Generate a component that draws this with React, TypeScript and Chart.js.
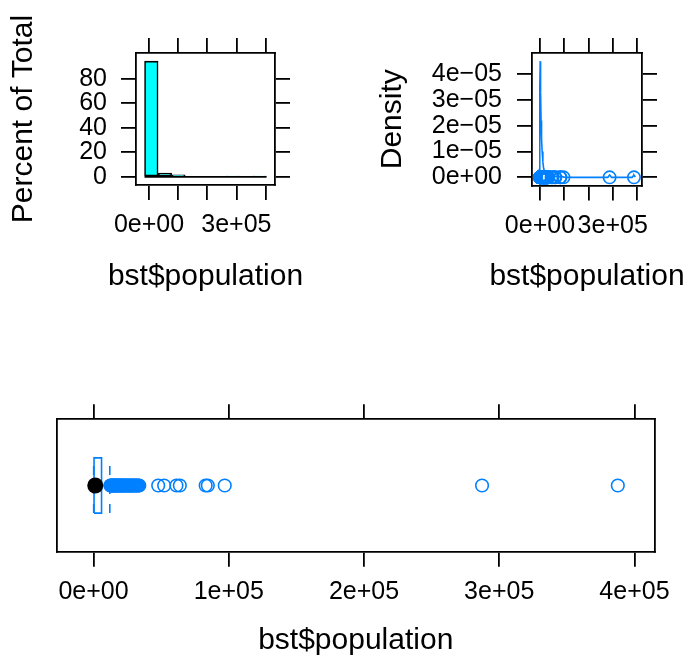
import React, { useEffect, useRef } from 'react';
import { Chart, registerables } from 'chart.js';

Chart.register(...registerables);

const FONT_FAMILY = "'Liberation Sans', Arial, Helvetica, sans-serif";
const BLUE = '#0080ff';
const CYAN = '#00ffff';
const BLACK = '#000000';
const FRAME_WIDTH = 1.8;
const SYMBOL_WIDTH = 1.6;

const xTitle = 'bst$population';

// Histogram: bin edges and percent of total per bin
const histBreaks = [-15508, 31016, 77540, 124064, 170588, 217112, 263636, 310160, 356684, 403208];
const histPercent = [94.4, 3.2, 1.6, 0, 0, 0, 0.4, 0, 0.4];

// Shared population axis ticks
const popTicks = [0, 100000, 200000, 300000, 400000];
const narrowPopLabels = ['0e+00', '', '', '3e+05', ''];
const widePopLabels = ['0e+00', '1e+05', '2e+05', '3e+05', '4e+05'];

const percentTicks = [0, 20, 40, 60, 80];
const percentLabels = ['0', '20', '40', '60', '80'];

// Kernel density estimate of population
const densityX = [
  -5000, -3000, -1500, 0, 1000, 2000, 3000, 4500, 6500, 9000, 12000, 15000, 20000, 25000,
  30000, 35000, 45000, 55000, 65000, 80000, 90000, 100000, 110000, 280000, 284000, 287300,
  291000, 295000, 380000, 384000, 387700, 391000, 393000,
];
const densityY = [
  0.02e-5, 0.3e-5, 1.6e-5, 3.5e-5, 4.5e-5, 4.2e-5, 3.3e-5, 2.2e-5, 1.5e-5, 1.0e-5, 0.6e-5,
  0.35e-5, 0.2e-5, 0.15e-5, 0.1e-5, 0.06e-5, 0.04e-5, 0.04e-5, 0.04e-5, 0.03e-5, 0.03e-5,
  0.01e-5, 0, 0, 0.05e-5, 0.09e-5, 0.05e-5, 0, 0, 0.05e-5, 0.09e-5, 0.05e-5, 0.01e-5,
];
const densityTicks = [0, 1e-5, 2e-5, 3e-5, 4e-5];
const densityLabels = ['0e+00', '1e\u221205', '2e\u221205', '3e\u221205', '4e\u221205'];

// Population values inside the whiskers
const bulkPopulation = [
  90, 150, 220, 300, 350, 420, 500, 600, 700, 800, 900, 1000, 1100, 1250, 1400, 1600, 1800,
  2000, 2300, 2600, 3000, 3400, 3900, 4400, 5000, 5900, 6700, 7600, 8600, 9700, 10800, 12000,
];
// Population values beyond the upper whisker
const outlierPopulation = [
  12400, 12800, 13200, 13700, 14100, 14600, 15000, 15500, 16000, 16500, 17000, 17500, 18100,
  18600, 19200, 19700, 20300, 20800, 21400, 22000, 22600, 23200, 23800, 24400, 25000, 25700,
  26300, 27000, 27600, 28300, 29000, 29700, 30400, 31100, 31800, 32500, 33200, 33800,
  47800, 52200, 61300, 63800, 82900, 84500, 97000, 287300, 387700,
];
// min, Q1, median, Q3, upper whisker
const fiveNumbers = [90, 350, 1250, 5900, 12000];

const extendRange = (lo: number, hi: number): [number, number] => {
  const pad = 0.07 * (hi - lo);
  return [lo - pad, hi + pad];
};

type AxisSpec = {
  position: 'top' | 'bottom' | 'left' | 'right';
  range: [number, number];
  size: number;
  ticks?: number[];
  labels?: string[];
  tickPadding?: number;
  title?: string;
  titlePad?: number;
};

function axis(o: AxisSpec): any {
  const horizontal = o.position === 'top' || o.position === 'bottom';
  return {
    type: 'linear',
    position: o.position,
    min: o.range[0],
    max: o.range[1],
    offset: false,
    afterBuildTicks: (s: any) => {
      s.ticks = (o.ticks ?? []).map((v) => ({ value: v }));
    },
    afterFit: (s: any) => {
      if (horizontal) s.height = o.size;
      else s.width = o.size;
    },
    ticks: {
      display: !!o.labels,
      autoSkip: false,
      maxRotation: 0,
      minRotation: 0,
      padding: o.tickPadding ?? 0,
      color: BLACK,
      font: { family: FONT_FAMILY, size: 25 },
      callback: (_v: any, i: number) => (o.labels ? o.labels[i] : ''),
    },
    grid: {
      display: !!o.ticks,
      drawOnChartArea: false,
      drawTicks: true,
      tickLength: 15,
      color: BLACK,
      lineWidth: FRAME_WIDTH,
      offset: false,
    },
    border: { display: true, color: BLACK, width: FRAME_WIDTH },
    title: o.title
      ? {
          display: true,
          text: o.title,
          color: BLACK,
          font: { family: FONT_FAMILY, size: 30 },
          padding: { top: o.titlePad ?? 0, bottom: o.titlePad ?? 0 },
        }
      : { display: false },
  };
}

// Horizontal axis title centred under the panel, free of the panel-width squeeze
function xTitlePlugin(text: string, below: number): any {
  return {
    id: 'xTitle',
    afterDraw(chart: any) {
      const { ctx, chartArea } = chart;
      ctx.save();
      ctx.font = `30px ${FONT_FAMILY}`;
      ctx.fillStyle = BLACK;
      ctx.textAlign = 'center';
      ctx.textBaseline = 'alphabetic';
      ctx.fillText(text, (chartArea.left + chartArea.right) / 2, chartArea.bottom + below);
      ctx.restore();
    },
  };
}

const baseOptions = {
  animation: false,
  responsive: false,
  maintainAspectRatio: false,
  devicePixelRatio: 1,
  layout: { padding: 0 },
  events: [],
  plugins: { legend: { display: false }, tooltip: { enabled: false } },
};

// Panel frames (page pixels)
const HIST = { left: 0, top: 0, width: 330, height: 300, area: { l: 136, t: 53, r: 275, b: 185 } };
const DENS = { left: 360, top: 0, width: 329, height: 300, area: { l: 532, t: 53, r: 642, b: 185.5 } };
const BOX = { left: 0, top: 330, width: 689, height: 331, area: { l: 57, t: 419.3, r: 654.5, b: 551.7 } };

function histogramConfig(): any {
  const f = HIST;
  const xr = extendRange(histBreaks[0], histBreaks[histBreaks.length - 1]);
  const yr = extendRange(0, Math.max(...histPercent));
  return {
    type: 'bar',
    data: {
      datasets: [
        {
          type: 'line',
          data: [
            { x: histBreaks[0], y: 0 },
            { x: histBreaks[histBreaks.length - 1], y: 0 },
          ],
          borderColor: BLACK,
          borderWidth: 1.6,
          pointRadius: 0,
          order: 0,
        },
        {
          type: 'bar',
          data: histPercent.map((p, i) => ({ x: (histBreaks[i] + histBreaks[i + 1]) / 2, y: p })),
          backgroundColor: CYAN,
          borderColor: BLACK,
          borderWidth: 1.6,
          borderSkipped: false,
          barPercentage: 1,
          categoryPercentage: 1,
          order: 1,
        },
      ],
    },
    options: {
      ...baseOptions,
      scales: {
        x: axis({ position: 'bottom', range: xr, size: f.top + f.height - f.area.b, ticks: popTicks, labels: narrowPopLabels, tickPadding: 10.5 }),
        x2: axis({ position: 'top', range: xr, size: f.area.t - f.top, ticks: popTicks }),
        y: axis({ position: 'left', range: yr, size: f.area.l - f.left, ticks: percentTicks, labels: percentLabels, tickPadding: 14, title: 'Percent of Total', titlePad: 6 }),
        y2: axis({ position: 'right', range: yr, size: f.left + f.width - f.area.r, ticks: percentTicks }),
      },
    },
    plugins: [xTitlePlugin(xTitle, 100)],
  };
}

function densityConfig(): any {
  const f = DENS;
  const xr = extendRange(densityX[0], densityX[densityX.length - 1]);
  const yr = extendRange(0, Math.max(...densityY));
  const points = [...bulkPopulation, ...outlierPopulation].map((v) => ({ x: v, y: 0 }));
  return {
    type: 'scatter',
    data: {
      datasets: [
        {
          data: densityX.map((x, i) => ({ x, y: densityY[i] })),
          showLine: true,
          borderColor: BLUE,
          borderWidth: 1.6,
          pointRadius: 0,
          order: 0,
        },
        {
          data: points,
          showLine: false,
          pointRadius: 6.2,
          pointBorderWidth: SYMBOL_WIDTH,
          pointBorderColor: BLUE,
          pointBackgroundColor: 'rgba(0,0,0,0)',
          order: 1,
        },
      ],
    },
    options: {
      ...baseOptions,
      scales: {
        x: axis({ position: 'bottom', range: xr, size: f.top + f.height - f.area.b, ticks: popTicks, labels: narrowPopLabels, tickPadding: 10.5 }),
        x2: axis({ position: 'top', range: xr, size: f.area.t - f.top, ticks: popTicks }),
        y: axis({ position: 'left', range: yr, size: f.area.l - f.left, ticks: densityTicks, labels: densityLabels, tickPadding: 15, title: 'Density', titlePad: 15 }),
        y2: axis({ position: 'right', range: yr, size: f.left + f.width - f.area.r, ticks: densityTicks }),
      },
    },
    plugins: [xTitlePlugin(xTitle, 99.5)],
  };
}

function boxConfig(): any {
  const f = BOX;
  const [lo, q1, med, q3, hi] = fiveNumbers;
  const allValues = [...bulkPopulation, ...outlierPopulation];
  const xr = extendRange(Math.min(...allValues), Math.max(...allValues));
  const yr: [number, number] = [0.4, 1.6];
  const half = 0.25;
  const dashed = { showLine: true, borderColor: BLUE, borderWidth: SYMBOL_WIDTH, borderDash: [9, 10], pointRadius: 0 };
  return {
    type: 'scatter',
    data: {
      datasets: [
        {
          data: outlierPopulation.map((v) => ({ x: v, y: 1 })),
          showLine: false,
          pointRadius: 6.3,
          pointBorderWidth: SYMBOL_WIDTH,
          pointBorderColor: BLUE,
          pointBackgroundColor: 'rgba(0,0,0,0)',
          order: 0,
        },
        {
          data: [{ x: med, y: 1 }],
          showLine: false,
          pointRadius: 8,
          pointBorderWidth: 0,
          pointBackgroundColor: BLACK,
          pointBorderColor: BLACK,
          order: 1,
        },
        {
          data: [
            { x: q1, y: 1 - half },
            { x: q3, y: 1 - half },
            { x: q3, y: 1 + half },
            { x: q1, y: 1 + half },
            { x: q1, y: 1 - half },
          ],
          showLine: true,
          borderColor: BLUE,
          borderWidth: SYMBOL_WIDTH,
          pointRadius: 0,
          order: 2,
        },
        { ...dashed, data: [{ x: q3, y: 1 }, { x: hi, y: 1 }], order: 3 },
        { ...dashed, data: [{ x: hi, y: 1 - half }, { x: hi, y: 1 + half }], order: 4 },
        { ...dashed, data: [{ x: q1, y: 1 }, { x: lo, y: 1 }], order: 5 },
        { ...dashed, data: [{ x: lo, y: 1 - half }, { x: lo, y: 1 + half }], order: 6 },
      ],
    },
    options: {
      ...baseOptions,
      scales: {
        x: axis({ position: 'bottom', range: xr, size: f.top + f.height - f.area.b, ticks: popTicks, labels: widePopLabels, tickPadding: 10.5 }),
        x2: axis({ position: 'top', range: xr, size: f.area.t - f.top, ticks: popTicks }),
        y: axis({ position: 'left', range: yr, size: f.area.l - f.left }),
        y2: axis({ position: 'right', range: yr, size: f.left + f.width - f.area.r }),
      },
    },
    plugins: [xTitlePlugin(xTitle, 97.5)],
  };
}

type PanelProps = {
  frame: { left: number; top: number; width: number; height: number };
  build: () => any;
};

function Panel({ frame, build }: PanelProps) {
  const ref = useRef<HTMLCanvasElement>(null);
  useEffect(() => {
    if (!ref.current) return;
    const chart = new Chart(ref.current, build());
    return () => chart.destroy();
  }, [build]);
  const { left, top, width, height } = frame;
  return (
    <canvas
      ref={ref}
      width={width}
      height={height}
      style={{ position: 'absolute', left, top, width, height, display: 'block' }}
    />
  );
}

export default function App() {
  return (
    <div
      style={{
        position: 'absolute',
        left: 0,
        top: 0,
        width: 689,
        height: 661,
        background: '#ffffff',
        overflow: 'hidden',
      }}
    >
      <Panel frame={HIST} build={histogramConfig} />
      <Panel frame={DENS} build={densityConfig} />
      <Panel frame={BOX} build={boxConfig} />
    </div>
  );
}
